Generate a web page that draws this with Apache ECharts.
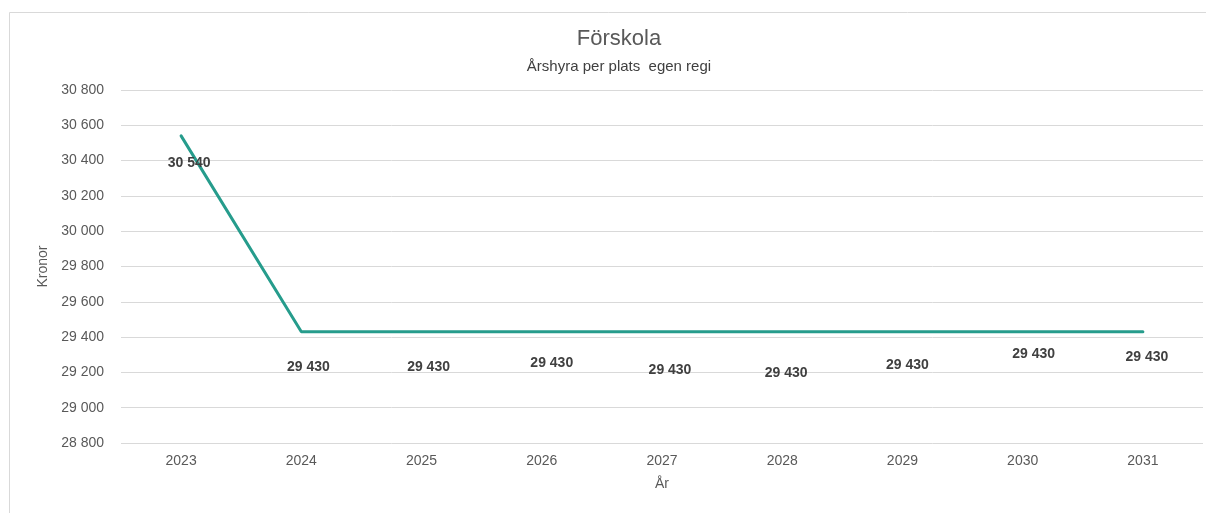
<!DOCTYPE html>
<html>
<head>
<meta charset="utf-8">
<title>Förskola</title>
<script src="https://cdn.jsdelivr.net/npm/echarts@6/dist/echarts.min.js"></script>
<style>
  html, body { margin: 0; padding: 0; background: #fff; }
  #chart { width: 1206px; height: 513px; }
</style>
</head>
<body>
<div id="chart"></div>
<script>
// data
var years = ['2023', '2024', '2025', '2026', '2027', '2028', '2029', '2030', '2031'];
var hyra = [30540, 29430, 29430, 29430, 29430, 29430, 29430, 29430, 29430];

// label nudges (Excel placed them a bit unevenly)
var labelShift = [[8, 27], [7, 35], [7, 35], [10, 31], [8, 38], [4, 41], [5, 33], [11, 22], [4, 25]];

function kr(v){
    return String(v).replace(/\B(?=(\d{3})+(?!\d))/g, ' ');
}

var font = '"Liberation Sans", Arial, sans-serif';

var option = {
    animation: false,
    backgroundColor: '#fff',
    graphic: [{
        type: 'rect',
        shape: { x: 9.5, y: 12.5, width: 1210, height: 520 },
        style: { fill: 'none', stroke: '#d9d9d9', lineWidth: 1 },
        silent: true
    }],
    title: {
        text: 'Förskola',
        subtext: 'Årshyra per plats  egen regi',
        left: 614,
        textAlign: 'center',
        top: 23,
        itemGap: 9,
        textStyle: { fontFamily: font, fontSize: 22, fontWeight: 'normal', color: '#595959' },
        subtextStyle: { fontFamily: font, fontSize: 15, color: '#404040' }
    },
    grid: { left: 121, right: 3, top: 90, bottom: 70 },
    xAxis: {
        type: 'category',
        data: years,
        boundaryGap: true,
        name: 'År',
        nameLocation: 'middle',
        nameGap: 34,
        nameTextStyle: { fontFamily: font, fontSize: 14, color: '#595959' },
        axisLine: { show: false },
        axisTick: { show: false },
        axisLabel: { fontFamily: font, fontSize: 14, color: '#595959', margin: 11 }
    },
    yAxis: {
        type: 'value',
        min: 28800,
        max: 30800,
        interval: 200,
        name: 'Kronor',
        nameLocation: 'middle',
        nameGap: 70,
        nameTextStyle: { fontFamily: font, fontSize: 14, color: '#595959' },
        axisLine: { show: false },
        axisTick: { show: false },
        axisLabel: { fontFamily: font, fontSize: 14, color: '#595959', margin: 17, formatter: kr },
        splitLine: { lineStyle: { color: '#d9d9d9', width: 1 } }
    },
    series: [{
        name: 'Årshyra',
        type: 'line',
        data: hyra.map(function(v, i){
            return {
                value: v,
                label: { offset: labelShift[i] }
            };
        }),
        showSymbol: true,
        symbol: 'circle',
        symbolSize: 2,
        lineStyle: { color: '#269c8c', width: 3, cap: 'round' },
        itemStyle: { color: 'rgba(38,156,140,0)', borderWidth: 0 },
        label: {
            show: true,
            position: 'inside',
            align: 'center',
            verticalAlign: 'middle',
            fontFamily: font,
            fontSize: 14,
            fontWeight: 'bold',
            color: '#404040',
            opacity: 1,
            formatter: function(p){ return kr(p.value); }
        }
    }]
};

var myChart = echarts.init(document.getElementById('chart'));
myChart.setOption(option);
</script>
</body>
</html>
